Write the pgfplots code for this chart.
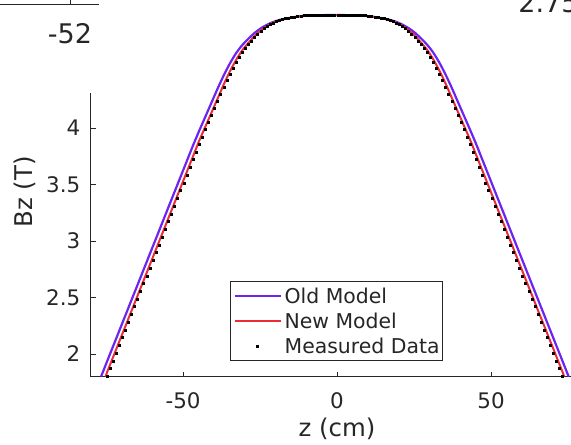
\documentclass[border=0pt]{standalone}
\usepackage{pgfplots}
\pgfplotsset{compat=1.18}
\usepackage{fontspec}
\setmainfont{DejaVu Sans}
\definecolor{axgray}{HTML}{262626}
\definecolor{oldblue}{HTML}{6B24F2}
\definecolor{newred}{HTML}{EE2A36}
\begin{document}
\begin{tikzpicture}
\useasboundingbox (-45.3pt,-33.7pt) rectangle (240.2pt,188.3pt);
\clip (-45.3pt,-33.7pt) rectangle (240.2pt,188.3pt);
\begin{axis}[
 scale only axis, width=246.4pt, height=141.8pt,
 xmin=-80, xmax=80, ymin=1.8, ymax=4.31,
 axis x line*=bottom, axis y line*=left,
 axis line style={axgray, line width=0.5pt, -},
 clip=false,
 tick align=inside,
 major tick length=2.5pt,
 tick style={axgray, line width=0.5pt},
 xtick={-50,0,50}, xticklabels={-50,0,50},
 ytick={2,2.5,3,3.5,4}, yticklabels={2,2.5,3,3.5,4},
 ticklabel style={font=\fontsize{10.7}{12}\selectfont, text=axgray},
 xticklabel style={anchor=north, inner sep=0pt, yshift=-8pt},
 yticklabel style={anchor=east, inner sep=0pt, xshift=-5pt},
 xlabel={z (cm)}, ylabel={Bz (T)},
 label style={font=\fontsize{12.2}{14}\selectfont, text=axgray},
 xlabel style={at={(axis description cs:0.5,-0.185)}, anchor=center},
 ylabel style={at={(axis description cs:-0.133,0.651)}, anchor=center},
 legend style={at={(0.283,0.055)}, anchor=south west, draw=axgray, line width=0.4pt, fill=white,
   font=\fontsize{10.2}{12}\selectfont, text=axgray, inner xsep=1.5pt, inner ysep=1pt,
   nodes={inner sep=0pt, text height=9.9pt, text depth=2.6pt}, /tikz/every odd column/.append style={column sep=1.5pt}},
 legend cell align=left,
 legend image code/.code={\draw[mark repeat=2,mark phase=2,#1] plot coordinates {(0pt,0pt) (11.5pt,0pt) (23pt,0pt)};},
]
\addplot[oldblue, line width=1.1pt, smooth] table {
-76.6 1.800
-74.7 1.931
-72.7 2.068
-70.7 2.205
-68.7 2.342
-66.7 2.479
-64.7 2.616
-62.7 2.753
-60.7 2.890
-58.7 3.027
-56.7 3.164
-54.7 3.301
-52.7 3.438
-50.7 3.575
-48.7 3.712
-46.7 3.849
-44.7 3.978
-42.7 4.103
-40.7 4.228
-38.7 4.353
-36.7 4.470
-34.7 4.575
-32.7 4.665
-30.7 4.736
-28.7 4.792
-26.7 4.843
-24.7 4.883
-22.7 4.914
-20.7 4.939
-18.7 4.956
-16.7 4.968
-14.7 4.978
-12.7 4.986
-10.7 4.993
-8.7 4.996
-6.7 4.998
-4.7 4.999
-2.7 5.000
-0.7 5.000
1.3 5.000
3.3 4.999
5.3 4.998
7.3 4.996
9.3 4.993
11.3 4.986
13.3 4.978
15.3 4.968
17.3 4.956
19.3 4.939
21.3 4.914
23.3 4.883
25.3 4.843
27.3 4.792
29.3 4.736
31.3 4.665
33.3 4.575
35.3 4.470
37.3 4.353
39.3 4.228
41.3 4.103
43.3 3.978
45.3 3.849
47.3 3.712
49.3 3.575
51.3 3.438
53.3 3.301
55.3 3.164
57.3 3.027
59.3 2.890
61.3 2.753
63.3 2.616
65.3 2.479
67.3 2.342
69.3 2.205
71.3 2.068
73.3 1.931
75.2 1.800
};
\addlegendentry{Old Model}
\addplot[newred, line width=1pt, smooth] table {
-75.1 1.800
-74.7 1.835
-72.7 1.972
-70.7 2.109
-68.7 2.246
-66.7 2.383
-64.7 2.520
-62.7 2.657
-60.7 2.794
-58.7 2.931
-56.7 3.068
-54.7 3.205
-52.7 3.342
-50.7 3.479
-48.7 3.616
-46.7 3.753
-44.7 3.890
-42.7 4.015
-40.7 4.140
-38.7 4.265
-36.7 4.390
-34.7 4.505
-32.7 4.605
-30.7 4.690
-28.7 4.755
-26.7 4.815
-24.7 4.865
-22.7 4.903
-20.7 4.932
-18.7 4.953
-16.7 4.966
-14.7 4.977
-12.7 4.986
-10.7 4.993
-8.7 4.996
-6.7 4.998
-4.7 4.999
-2.7 5.000
-0.7 5.000
1.3 5.000
3.3 4.999
5.3 4.998
7.3 4.996
9.3 4.993
11.3 4.986
13.3 4.977
15.3 4.966
17.3 4.953
19.3 4.932
21.3 4.903
23.3 4.865
25.3 4.815
27.3 4.755
29.3 4.690
31.3 4.605
33.3 4.505
35.3 4.390
37.3 4.265
39.3 4.140
41.3 4.015
43.3 3.890
45.3 3.753
47.3 3.616
49.3 3.479
51.3 3.342
53.3 3.205
55.3 3.068
57.3 2.931
59.3 2.794
61.3 2.657
63.3 2.520
65.3 2.383
67.3 2.246
69.3 2.109
71.3 1.972
73.3 1.835
73.7 1.800
};
\addlegendentry{New Model}
\addplot[only marks, mark=square*, mark size=0.5pt, black] table {
-74.7 1.801
-73.7 1.869
-72.7 1.938
-71.7 2.006
-70.7 2.075
-69.7 2.143
-68.7 2.212
-67.7 2.280
-66.7 2.349
-65.7 2.417
-64.7 2.486
-63.7 2.554
-62.7 2.623
-61.7 2.691
-60.7 2.760
-59.7 2.828
-58.7 2.897
-57.7 2.965
-56.7 3.034
-55.7 3.102
-54.7 3.171
-53.7 3.239
-52.7 3.308
-51.7 3.376
-50.7 3.445
-49.7 3.513
-48.7 3.582
-47.7 3.650
-46.7 3.719
-45.7 3.787
-44.7 3.856
-43.7 3.921
-42.7 3.984
-41.7 4.046
-40.7 4.109
-39.7 4.171
-38.7 4.234
-37.7 4.296
-36.7 4.359
-35.7 4.419
-34.7 4.476
-33.7 4.530
-32.7 4.580
-31.7 4.626
-30.7 4.669
-29.7 4.706
-28.7 4.739
-27.7 4.771
-26.7 4.802
-25.7 4.830
-24.7 4.856
-23.7 4.878
-22.7 4.897
-21.7 4.914
-20.7 4.929
-19.7 4.941
-18.7 4.952
-17.7 4.959
-16.7 4.966
-15.7 4.972
-14.7 4.977
-13.7 4.982
-12.7 4.986
-11.7 4.990
-10.7 4.993
-9.7 4.995
-8.7 4.996
-7.7 4.997
-6.7 4.998
-5.7 4.999
-4.7 4.999
-3.7 5.000
-2.7 5.000
-1.7 5.000
-0.7 5.000
0.3 5.000
1.3 5.000
2.3 5.000
3.3 4.999
4.3 4.999
5.3 4.998
6.3 4.997
7.3 4.996
8.3 4.995
9.3 4.993
10.3 4.990
11.3 4.986
12.3 4.982
13.3 4.977
14.3 4.972
15.3 4.966
16.3 4.959
17.3 4.952
18.3 4.941
19.3 4.929
20.3 4.914
21.3 4.897
22.3 4.878
23.3 4.856
24.3 4.830
25.3 4.802
26.3 4.771
27.3 4.739
28.3 4.706
29.3 4.669
30.3 4.626
31.3 4.580
32.3 4.530
33.3 4.476
34.3 4.419
35.3 4.359
36.3 4.296
37.3 4.234
38.3 4.171
39.3 4.109
40.3 4.046
41.3 3.984
42.3 3.921
43.3 3.856
44.3 3.787
45.3 3.719
46.3 3.650
47.3 3.582
48.3 3.513
49.3 3.445
50.3 3.376
51.3 3.308
52.3 3.239
53.3 3.171
54.3 3.102
55.3 3.034
56.3 2.965
57.3 2.897
58.3 2.828
59.3 2.760
60.3 2.691
61.3 2.623
62.3 2.554
63.3 2.486
64.3 2.417
65.3 2.349
66.3 2.280
67.3 2.212
68.3 2.143
69.3 2.075
70.3 2.006
71.3 1.938
72.3 1.869
73.3 1.801
};
\addlegendentry{Measured Data}
\end{axis}
\draw[axgray, line width=0.5pt] (-46pt,185.8pt) -- (4.2pt,185.8pt);
\draw[axgray, line width=0.5pt] (-10.3pt,185.8pt) -- (-10.3pt,189pt);
\node[text=axgray, font=\fontsize{13.5}{15}\selectfont, anchor=center, inner sep=0pt] at (-10.3pt,171.3pt) {-52};
\node[text=axgray, font=\fontsize{13.5}{15}\selectfont, anchor=base west, inner sep=0pt] at (213.7pt,181.8pt) {2.75};
\end{tikzpicture}
\end{document}
